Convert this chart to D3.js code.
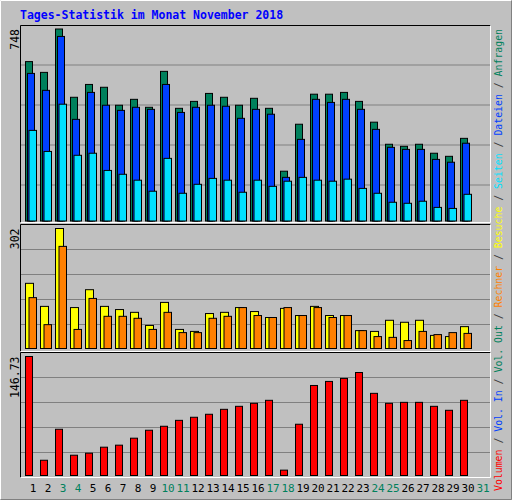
<!DOCTYPE html>
<html><head><meta charset="utf-8">
<script src="https://cdn.jsdelivr.net/npm/d3@7"></script>
<style>body{margin:0;background:#fff}</style></head>
<body><svg id="c" width="512" height="500"></svg>
<script>
const days = d3.range(1,32);
const weekend = [3,4,10,11,17,18,24,25,31];
const anfragen = [621,579,748,482,532,521,451,474,443,583,439,466,497,482,451,478,439,194,377,494,494,501,466,385,299,291,299,264,252,322];
const dateien  = [575,509,719,396,501,451,431,443,435,532,423,443,451,447,400,435,416,170,318,474,462,474,435,357,287,279,279,240,229,303];
const seiten   = [353,271,455,256,264,197,182,159,116,244,108,143,166,159,112,159,135,155,170,159,155,163,127,108,73,69,77,53,49,104];
const besuche  = [164,106,302,103,148,106,98,91,58,116,48,43,88,91,103,93,78,101,83,106,83,83,45,43,71,66,71,33,30,55];
const rechner  = [128,60,257,48,126,81,81,76,48,91,40,40,76,81,103,83,78,103,83,103,78,83,45,30,28,20,43,35,40,38];
const volumen  = [146.73,18.8,57,25,27.5,34.9,37.4,46,55.8,60.7,68,71.8,75.5,81.6,85.3,89,92.7,6.6,63.2,111,116,119.7,127,101.3,89,90.2,90.2,85.3,80.4,92.7];
const maxLabels = ["748","302","146.73"];
const title = "Tages-Statistik im Monat November 2018";
const legend = [["Volumen","#ff0000"],["Vol. In","#0040ff"],["Vol. Out","#00805c"],["Rechner","#ff8000"],["Besuche","#ffff00"],["Seiten","#00e0ff"],["Dateien","#0040ff"],["Anfragen","#00805c"]];

const svg = d3.select("#c");
svg.append("rect").attr("x",0).attr("y",0).attr("width",512).attr("height",500).attr("fill","#c0c0c0");
svg.append("path").attr("d","M0.5,499.5V0.5H511.5").attr("stroke","#fff").attr("fill","none");
svg.append("path").attr("d","M0.5,499.5H511.5V0.5").attr("stroke","#808080").attr("fill","none");
svg.append("text").attr("x",20).attr("y",19).text(title)
  .attr("font-family","DejaVu Sans Mono").attr("font-weight","bold").attr("font-size",11.5).attr("fill","#0000ff");

const x = d3.scaleLinear().domain([1,31]).range([25.5,475.5]);
const panels = [
  {top:25, base:221, maxY:29, max:748, grids:[65,105,145,185], series:[[anfragen,"#00805c",0],[dateien,"#0040ff",2],[seiten,"#00e0ff",3.5]], widths:[7,7,7.5]},
  {top:224, base:348.5, maxY:228.5, max:302, grids:[249.5,274.5,299.5,324.5], series:[[besuche,"#ffff00",0],[rechner,"#ff8000",3.5]], widths:[8,7.5]},
  {top:352, base:475.5, maxY:356.5, max:146.73, grids:[377.5,402.5,427.5,452.5], series:[[volumen,"#ff0000",0]], widths:[7]}
];
panels.forEach((p,pi)=>{
  const y = d3.scaleLinear().domain([0,p.max]).range([p.base,p.maxY]);
  const bottom = pi===0?222:(pi===1?351:477);
  svg.append("path").attr("d",`M20.5,${bottom+0.5}V${p.top+0.5}H490.5`).attr("stroke","#000").attr("fill","none");
  svg.append("path").attr("d",`M20.5,${bottom+0.5}H490.5V${p.top+0.5}`).attr("stroke","#fff").attr("fill","none");
  p.grids.forEach(g=>svg.append("line").attr("x1",21).attr("x2",490).attr("y1",g).attr("y2",g).attr("stroke","#808080"));
  p.series.forEach(([vals,col,off],si)=>{
    svg.append("g").selectAll("rect").data(vals).join("rect")
      .attr("x",(d,i)=>x(i+1)+off).attr("width",p.widths[si])
      .attr("y",d=>y(d)).attr("height",d=>p.base-y(d))
      .attr("fill",col).attr("stroke","#000").attr("stroke-width",1);
  });
  svg.append("text").attr("transform",`translate(19,${p.maxY}) rotate(-90)`).attr("text-anchor","end")
    .attr("font-family","DejaVu Sans Mono").attr("font-size",11.5).attr("fill","#000").text(maxLabels[pi]);
});
svg.append("g").selectAll("text").data(days).join("text")
  .attr("x",d=>x(d)+7.5).attr("y",492).attr("text-anchor","middle")
  .attr("font-family","DejaVu Sans Mono").attr("font-size",11)
  .attr("fill",d=>weekend.includes(d)?"#00805c":"#000").text(d=>d);
const lt = svg.append("text").attr("transform","translate(502,491) rotate(-90)")
  .attr("font-family","DejaVu Sans Mono").attr("font-size",10).attr("textLength",462).attr("lengthAdjust","spacingAndGlyphs");
legend.forEach(([t,c],i)=>{
  if(i>0) lt.append("tspan").attr("fill","#404040").text(" / ");
  lt.append("tspan").attr("fill",c).text(t);
});
</script></body></html>
